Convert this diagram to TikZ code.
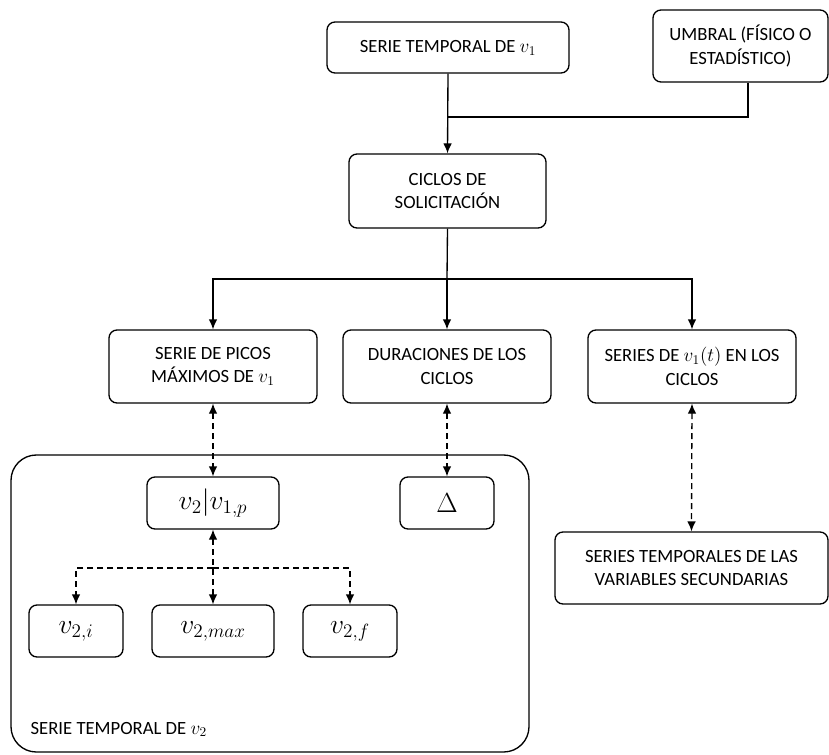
\documentclass[tikz,border=0pt]{standalone}
\usepackage{fontspec}
\setmainfont{Carlito}
\usetikzlibrary{arrows.meta}
\begin{document}
\begin{tikzpicture}[>={Latex[length=7.5pt,width=6.5pt]}, x=0.75pt, y=-0.75pt, line width=1pt,
  caja/.style={draw, rounded corners=6pt, align=center, inner sep=2pt,
    font=\fontsize{14}{17.5}\selectfont},
  mcaja/.style={draw, rounded corners=6pt, inner sep=0pt,
    minimum height=39pt, font=\fontsize{21}{25}\selectfont},
  punteada/.style={dashed, dash pattern=on 4.5pt off 3pt}]
\useasboundingbox (0,0) rectangle (829,754);

% fila de arriba
\node[caja, minimum width=181.5pt, minimum height=38.25pt] (s1) at (448,47.5) {SERIE TEMPORAL DE $v_1$};
\node[caja, minimum width=131.25pt, minimum height=54pt] (umbral) at (740.5,46) {UMBRAL (FÍSICO O\\ESTADÍSTICO)};
\node[caja, minimum width=147.75pt, minimum height=55.5pt] (ciclos) at (447.5,191) {CICLOS DE\\SOLICITACIÓN};
\coordinate (j1) at (448,117);
\draw[->] (s1.south) -- (ciclos.north);
\draw ([xshift=5.6pt]umbral.south) |- (j1);

% fila del medio
\node[caja, minimum width=156pt, minimum height=54.75pt] (picos) at (213,366.5) {SERIE DE PICOS\\MÁXIMOS DE $v_1$};
\node[caja, minimum width=156pt, minimum height=54.75pt] (durac) at (447,366.5) {DURACIONES DE LOS\\CICLOS};
\node[caja, minimum width=156pt, minimum height=54.75pt] (seriesv) at (692,366.5) {SERIES DE $v_1(t)$ EN LOS\\CICLOS};
\coordinate (j2) at (447,279);
\draw (ciclos.south) -- (j2);
\draw[->] (j2) -| (picos.north);
\draw[->] (j2) -- (durac.north);
\draw[->] (j2) -| (seriesv.north);

% serie temporal de v2
\draw[rounded corners=19pt] (11,455) rectangle (529,752);
\node[anchor=base west, inner sep=0pt, font=\fontsize{14}{17.5}\selectfont] (lblv2) at (30,734) {SERIE TEMPORAL DE $v_2$};
\node[mcaja, minimum width=99pt] (cond) at (213,503) {$v_2|v_{1,p}$};
\node[mcaja, minimum width=70.5pt] (delta) at (447,503) {$\Delta$};
\node[mcaja, minimum width=70.5pt] (vi) at (76,631) {$v_{2,i}$};
\node[mcaja, minimum width=91.5pt] (vmax) at (213,631) {$v_{2,max}$};
\node[mcaja, minimum width=70.5pt] (vf) at (350,631) {$v_{2,f}$};
\coordinate (j3) at (213,568);
\draw[<->, punteada] (picos.south) -- (cond.north);
\draw[<->, punteada] (durac.south) -- (delta.north);
\draw[<->, punteada] (cond.south) -- (vmax.north);
\draw[->, punteada] (j3) -| (vi.north);
\draw[->, punteada] (j3) -| (vf.north);

% variables secundarias
\node[caja, minimum width=204.75pt, minimum height=54pt] (secund) at (691.5,568) {SERIES TEMPORALES DE LAS\\VARIABLES SECUNDARIAS};
\draw[<->, punteada] (seriesv.south) -- (secund.north);
\end{tikzpicture}
\end{document}
